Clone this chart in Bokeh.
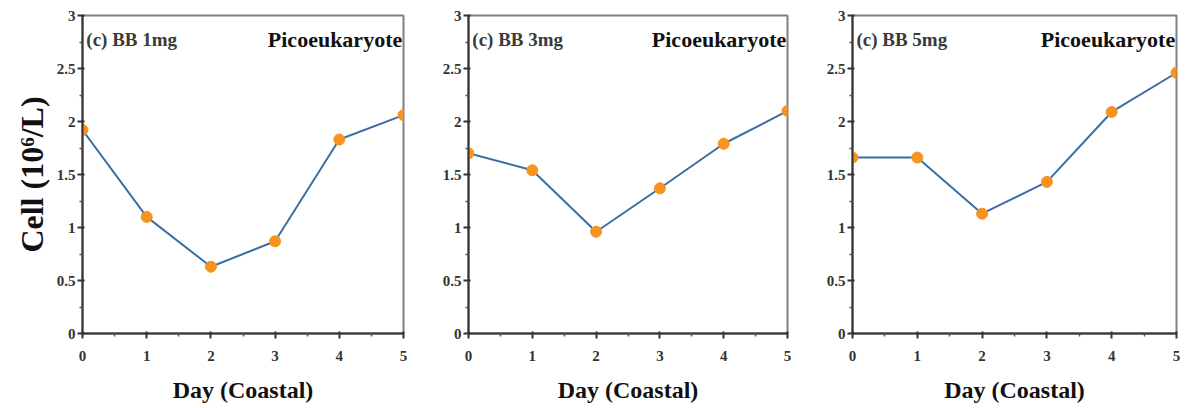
from bokeh.plotting import figure
from bokeh.layouts import row
from bokeh.models import Label, FixedTicker, Title
from bokeh.embed import file_html
from bokeh.resources import INLINE

days = [0, 1, 2, 3, 4, 5]
bb1 = [1.92, 1.10, 0.63, 0.87, 1.83, 2.06]
bb3 = [1.70, 1.54, 0.96, 1.37, 1.79, 2.10]
bb5 = [1.66, 1.66, 1.13, 1.43, 2.09, 2.46]
panel_titles = ["(c) BB 1mg", "(c) BB 3mg", "(c) BB 5mg"]
series = [bb1, bb3, bb5]
group_label = "Picoeukaryote"
x_label = "Day (Coastal)"
y_label = "Cell (10⁶/L)"
x_ticks = [0, 1, 2, 3, 4, 5]
y_ticks = [0, 0.5, 1, 1.5, 2, 2.5, 3]

FONT = "Liberation Serif"
# width, left border, right border per panel
geom = [(420, 82, 17), (385, 48, 18), (384, 47, 13)]

figs = []
for i, (vals, title) in enumerate(zip(series, panel_titles)):
    w, bl, br = geom[i]
    p = figure(width=w, height=408, x_range=(0, 5), y_range=(0, 3),
               output_backend="svg", toolbar_location=None,
               min_border_left=bl, min_border_right=br,
               min_border_top=15, min_border_bottom=75)
    p.grid.visible = False
    p.outline_line_color = "#808080"
    p.outline_line_width = 2
    p.background_fill_color = "white"
    p.border_fill_color = "white"
    for ax in (p.xaxis[0], p.yaxis[0]):
        ax.axis_line_color = "#333333"
        ax.axis_line_width = 2
        ax.major_tick_line_color = "#333333"
        ax.major_tick_line_width = 2
        ax.minor_tick_line_color = "#555555"
        ax.minor_tick_line_width = 1.5
        ax.major_tick_out = 5
        ax.major_tick_in = 2
        ax.minor_tick_out = 3
        ax.minor_tick_in = 0
        ax.major_label_text_font = FONT
        ax.major_label_text_font_style = "bold"
        ax.major_label_text_font_size = "15px"
        ax.major_label_text_color = "#333333"
    p.xaxis.ticker = FixedTicker(ticks=x_ticks, minor_ticks=[0.5, 1.5, 2.5, 3.5, 4.5])
    p.yaxis.ticker = FixedTicker(ticks=y_ticks, minor_ticks=[0.25, 0.75, 1.25, 1.75, 2.25, 2.75])
    p.yaxis.major_label_overrides = {0: "0", 0.5: "0.5", 1: "1", 1.5: "1.5", 2: "2", 2.5: "2.5", 3: "3"}
    p.yaxis.major_label_standoff = 2
    p.xaxis.major_label_standoff = 12
    p.xaxis.axis_label = x_label
    p.xaxis.axis_label_text_font = FONT
    p.xaxis.axis_label_text_font_style = "bold"
    p.xaxis.axis_label_text_font_size = "24px"
    p.xaxis.axis_label_text_color = "#111111"
    p.xaxis.axis_label_standoff = 13
    if i == 0:
        p.add_layout(Title(text=y_label, align="center", offset=16,
                           text_font=FONT, text_font_style="bold", text_font_size="32px",
                           text_color="#111111", standoff=8), "left")

    p.line(days, vals, line_color="#3b6ea5", line_width=2)
    p.scatter(days, vals, size=11, fill_color="#f7931e", line_color="#f7931e")

    p.add_layout(Label(x=0.06, y=2.77, text=title, text_font=FONT,
                       text_font_style="bold", text_font_size="19px",
                       text_color="#3a3a3a", text_baseline="middle", text_align="left"))
    p.add_layout(Label(x=4.98, y=2.77, text=group_label, text_font=FONT,
                       text_font_style="bold", text_font_size="22px",
                       text_color="#111111", text_baseline="middle", text_align="right"))
    figs.append(p)

layout = row(*figs, spacing=0)
open("out.html", "w").write(file_html(layout, INLINE))
